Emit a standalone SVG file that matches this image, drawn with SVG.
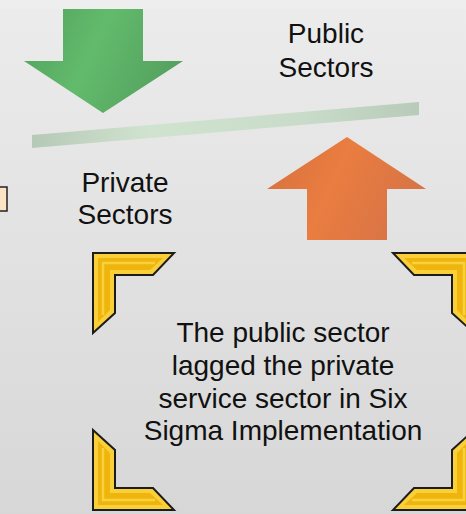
<svg xmlns="http://www.w3.org/2000/svg" width="466" height="514" viewBox="0 0 466 514">
<defs>
<linearGradient id="bg" x1="0" y1="0" x2="0" y2="1">
<stop offset="0" stop-color="#ececec"/>
<stop offset="1" stop-color="#d7d7d7"/>
</linearGradient>
<linearGradient id="green" x1="0" y1="0" x2="1" y2="0.3">
<stop offset="0" stop-color="#529f5c"/>
<stop offset="0.5" stop-color="#62bb6c"/>
<stop offset="1" stop-color="#55a35f"/>
</linearGradient>
<linearGradient id="orange" x1="0" y1="0" x2="1" y2="0.3">
<stop offset="0" stop-color="#d57040"/>
<stop offset="0.5" stop-color="#ea7d40"/>
<stop offset="1" stop-color="#d87446"/>
</linearGradient>
<linearGradient id="bar" x1="0" y1="0" x2="1" y2="0">
<stop offset="0" stop-color="#b6c9b6"/>
<stop offset="0.3" stop-color="#cfe3cf"/>
<stop offset="0.7" stop-color="#c9dcc9"/>
<stop offset="1" stop-color="#b8cab8"/>
</linearGradient>
<g id="corner">
<polygon points="0,0 81,0 60,22 22,22 22,60 0,80" fill="#f9cf3a" stroke="#1c1c1c" stroke-width="2" stroke-linejoin="miter"/>
<polygon points="5,5 70,5 57,17 17,17 17,57 5,69" fill="#efb50c"/>
<polyline points="62,10 10,10 10,62" fill="none" stroke="#f8d23e" stroke-width="2.5"/>
</g>
<style>
.lbl{font-family:"Liberation Sans",Arial,sans-serif;font-size:28px;fill:#111;text-anchor:middle}
</style>
</defs>
<rect width="466" height="514" fill="url(#bg)"/>
<rect width="466" height="9" fill="#eeeeee"/>
<g id="connectors"/>
<g id="bar-node">
<polygon points="32,135 419,102 419,115 32,148" fill="url(#bar)"/>
</g>
<g id="green-arrow">
<polygon points="63,9 143,9 143,61 183,61 103,113 24,61 63,61" fill="url(#green)"/>
</g>
<g id="orange-arrow">
<polygon points="347,137 426,189 387,189 387,240 307,240 307,189 267,189" fill="url(#orange)"/>
</g>
<g id="small-box">
<rect x="-2" y="187" width="9" height="24" fill="#fde3c6" stroke="#222" stroke-width="1.5"/>
</g>
<g id="public-label">
<text class="lbl" x="326" y="43">Public</text>
<text class="lbl" x="326" y="77">Sectors</text>
</g>
<g id="private-label">
<text class="lbl" x="125" y="192">Private</text>
<text class="lbl" x="125" y="224">Sectors</text>
</g>
<g id="corners">
<use href="#corner" transform="translate(93,253)"/>
<use href="#corner" transform="translate(474,253) scale(-1,1)"/>
<use href="#corner" transform="translate(93,510) scale(1,-1)"/>
<use href="#corner" transform="translate(474,510) scale(-1,-1)"/>
</g>
<g id="main-text">
<text class="lbl" x="283" y="342">The public sector</text>
<text class="lbl" x="283" y="375">lagged the private</text>
<text class="lbl" x="283" y="408">service sector in Six</text>
<text class="lbl" x="283" y="440">Sigma Implementation</text>
</g>
</svg>
